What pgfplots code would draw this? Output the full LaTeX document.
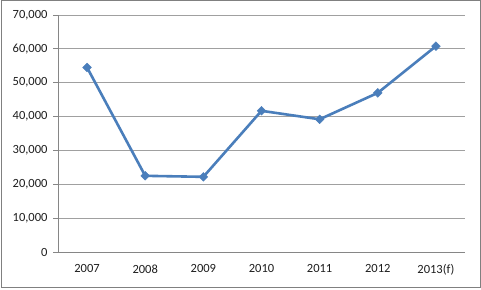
\documentclass[border=0pt]{standalone}
\usepackage{pgfplots}
\pgfplotsset{compat=1.18}
\usepackage{fontspec}
\setmainfont{Carlito}
\definecolor{ser}{RGB}{74,126,187}
\definecolor{axg}{RGB}{134,134,134}
\definecolor{grd}{RGB}{160,160,160}
\begin{document}
\begin{tikzpicture}[x=1pt,y=1pt]
\fill[white] (0,0) rectangle (481,289);
\draw[color={rgb,255:red,128;green,128;blue,128}, line width=1pt] (1,1.5) rectangle (480,288);
\begin{axis}[
  at={(58pt,37pt)}, anchor=south west,
  scale only axis, width=407pt, height=237pt,
  xmin=-0.5, xmax=6.5, ymin=0, ymax=70000,
  axis x line*=bottom, axis y line*=left,
  axis line style={axg, line width=0.8pt},
  xtick={0,...,6},
  xticklabels={2007,2008,2009,2010,2011,2012,2013(f)},
  x tick style={draw=none},
  extra x ticks={-0.5,0.5,1.5,2.5,3.5,4.5,5.5,6.5},
  extra x tick labels={},
  extra x tick style={tick style={axg, line width=0.8pt, draw=axg}, major tick length=5pt, tick align=outside, grid=none},
  ytick={0,10000,...,70000},
  y tick style={axg, line width=0.8pt},
  major tick length=5pt, tick align=outside,
  ymajorgrids, major grid style={grd, line width=0.8pt},
  scaled y ticks=false,
  /pgf/number format/.cd, 1000 sep={,}, assume math mode=true,
  /pgfplots/.cd,
  tick label style={font=\fontsize{12.5}{14}\selectfont, text={rgb,255:red,30;green,30;blue,30}},
  xticklabel style={yshift=-4pt},
  yticklabel style={xshift=-2pt},
  clip=false,
]
\addplot[ser, line width=2.6pt, mark=square*, mark size=3.1pt, mark options={solid, line width=0.4pt, fill=ser, rotate=45}]
coordinates {(0,54500) (1,22500) (2,22200) (3,41700) (4,39200) (5,47000) (6,60800)};
\end{axis}
\end{tikzpicture}
\end{document}
